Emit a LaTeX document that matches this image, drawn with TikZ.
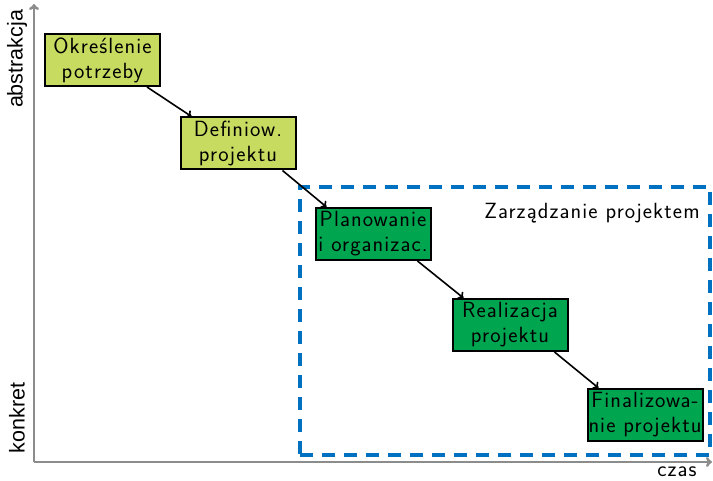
\documentclass[tikz,border=0pt]{standalone}
\usepackage{fontspec}
\newfontfamily\axisfont{Liberation Sans}
\newfontfamily\spacedsans[LetterSpace=5]{Latin Modern Sans}
\usetikzlibrary{arrows.meta}
\definecolor{phaselight}{RGB}{199,219,97}
\definecolor{phasedark}{RGB}{0,165,80}
\definecolor{mgmtblue}{RGB}{0,112,192}
\definecolor{axisgray}{RGB}{140,140,140}
\tikzset{
  phase/.style={draw=black, line width=2pt, minimum width=115pt, minimum height=52pt,
    inner sep=1pt, align=center, font=\spacedsans\fontsize{22}{25}\selectfont},
  early/.style={phase, fill=phaselight},
  late/.style={phase, fill=phasedark},
  flow/.style={-{To[length=5pt,width=9pt]}, line width=1.6pt, black},
  axisline/.style={-{To[length=6pt,width=10pt]}, line width=2.5pt, axisgray},
  axislabel/.style={font=\axisfont\fontsize{21.5}{24}\selectfont, inner sep=0pt},
  plainlabel/.style={font=\spacedsans\fontsize{22}{25}\selectfont, inner sep=0pt},
}
\begin{document}
\begin{tikzpicture}[x=1pt,y=-1pt]
\useasboundingbox (0,0) rectangle (713,481);

% management frame
\node[draw=mgmtblue, dash pattern=on 13pt off 9pt, line width=3.5pt,
      minimum width=410pt, minimum height=268pt] (mgmt) at (505,321) {};
\node[plainlabel] (mgmtlabel) at (592,213) {Zarządzanie projektem};

% axes
\coordinate (origin) at (34,462);
\coordinate (ytop) at (34,4);
\coordinate (xend) at (712,462);
\draw[axisline] (origin) -- (ytop);
\draw[axisline] (origin) -- (xend);
\node[axislabel, rotate=90] (abs) at (17,59) {abstrakcja};
\node[axislabel, rotate=90] (konk) at (17,418) {konkret};
\node[plainlabel] (czas) at (677,472) {czas};

% phases
\node[early] (p1) at (102.5,60) {Określenie\\potrzeby};
\node[early] (p2) at (238,143.5) {Definiow.\\projektu};
\node[late] (p3) at (373,234) {Planowanie\\i organizac.};
\node[late] (p4) at (510,325) {Realizacja\\projektu};
\node[late] (p5) at (645,415) {Finalizowa-\\nie projektu};

% transitions
\draw[flow] ([xshift=-14pt]p1.south east) -- ([xshift=12pt]p2.north west);
\draw[flow] ([xshift=-14pt]p2.south east) -- ([xshift=12pt]p3.north west);
\draw[flow] ([xshift=-14pt]p3.south east) -- ([xshift=12pt]p4.north west);
\draw[flow] ([xshift=-14pt]p4.south east) -- ([xshift=12pt]p5.north west);
\end{tikzpicture}
\end{document}
